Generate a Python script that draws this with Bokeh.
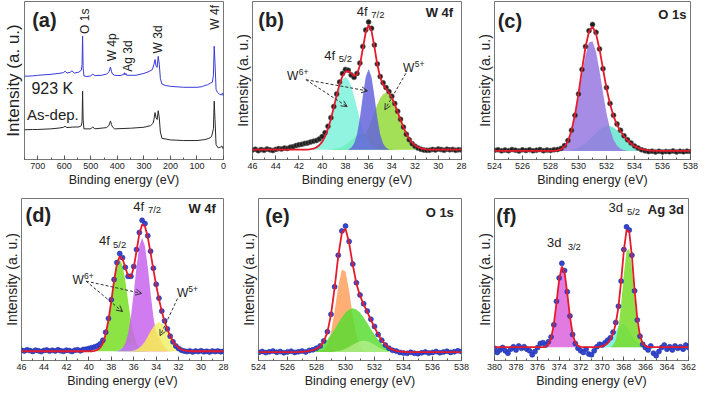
import numpy as np
from bokeh.plotting import figure
from bokeh.layouts import row, column
from bokeh.models import Range1d, SingleIntervalTicker, FixedTicker, Label, Arrow, OpenHead
from bokeh.embed import file_html
from bokeh.resources import INLINE

FONT = "Liberation Sans"

# ---------------- (a) survey spectra ----------------
A_923K_E = [750, 720, 700, 650, 620, 603, 597, 590, 578, 571, 562, 545, 536, 533, 531, 529, 526, 515, 500, 493,
            485, 460, 440, 431, 426, 422, 418, 410, 390, 376, 373.5, 371, 368, 365, 330, 300, 280, 268, 262, 258,
            254, 250, 246, 242, 238, 232, 220, 200, 150, 100, 80, 70, 60, 50, 42, 38, 35, 32, 28, 22,
            15, 8, 4, 1, 0]
A_923K_I = [52.7, 52.9, 53.3, 53.9, 54.5, 55.0, 55.9, 54.7, 55.2, 56.1, 54.7, 55.3, 56.5, 60.0, 78.2, 58.0, 52.9, 52.5, 52.9, 54.1,
            53.1, 53.3, 54.1, 55.6, 58.5, 55.5, 54.0, 53.3, 53.1, 53.9, 54.9, 53.5, 54.5, 53.3, 53.3, 54.5, 55.7, 56.9, 60.3, 63.3,
            58.9, 58.3, 65.3, 60.3, 51.3, 47.7, 46.9, 46.3, 45.7, 45.7, 46.1, 46.9, 47.3, 48.3, 48.9, 53.3, 71.7, 61.3, 44.3, 42.3,
            41.3, 40.9, 42.1, 40.3, 40.7]
A_ASDEP_E = [750, 720, 700, 650, 620, 603, 597, 590, 570, 545, 536, 533, 531, 529, 526, 500, 493, 485, 440, 431,
             426, 422, 418, 410, 350, 300, 275, 265, 262, 258, 254, 250, 246, 242, 238, 232, 200, 150, 100, 70,
             55, 45, 38, 35, 32, 28, 20, 12, 6, 3, 0]
A_ASDEP_I = [18.8, 19.0, 19.0, 19.4, 19.9, 20.4, 21.0, 20.2, 20.5, 20.6, 21.4, 24.0, 43.3, 25.0, 19.4, 19.4, 20.6, 19.4, 20.2, 21.8,
             24.4, 22.0, 20.5, 19.4, 19.8, 20.4, 21.4, 23.0, 25.5, 29.7, 26.3, 25.3, 30.9, 26.3, 17.4, 13.4, 12.4, 12.0, 12.0, 12.6,
             13.4, 14.4, 19.4, 36.9, 25.3, 9.4, 7.4, 7.8, 8.6, 7.0, 7.4]

# ---------------- (b) W 4f, as-deposited ----------------
B_START, B_STEP, B_BASE = 46.0, -0.25, 6.2
B_DATA = [6.0, 6.5, 5.6, 6.3, 5.8, 6.6, 6.1, 5.7, 6.4, 6.9,
          6.6, 7.2, 7.0, 7.8, 8.1, 8.8, 9.3, 9.6, 10.2, 10.5,
          11.0, 11.5, 12.0, 13.0, 14.5, 17.0, 21.0, 26.5, 33.5, 41.5,
          49.0, 54.5, 57.0, 56.5, 53.5, 52.0, 54.5, 61.0, 71.5, 82.0,
          87.0, 83.0, 72.5, 60.5, 52.5, 48.5, 45.5, 43.0, 40.0, 35.5,
          30.5, 25.5, 20.5, 16.0, 12.5, 10.0, 8.4, 7.2, 6.5, 6.0,
          5.8, 5.9, 6.4, 6.0, 6.6, 6.3, 5.9, 6.5, 6.1, 6.4,
          5.8, 6.2, 6.0]
B_W6_52_FROM = 41.0
B_W6_52 = [0.3, 0.7, 1.4, 2.8, 5.0, 8.4, 13.2, 19.3, 26.4, 33.7, 40.1, 44.4, 46.0, 44.4, 40.1, 33.7, 26.4, 19.3,
           13.2, 8.4, 5.0, 2.8, 1.4, 0.7, 0.3]
B_W6_72_FROM = 37.75
B_W6_72 = [0.3, 1.2, 3.9, 9.7, 20.1, 33.8, 46.0, 51.0, 46.0, 33.8, 20.1, 9.7, 3.9, 1.2, 0.3]
B_W5_52_FROM = 39.5
B_W5_52 = [0.1, 0.2, 0.4, 0.8, 1.4, 2.2, 3.2, 4.6, 6.1, 7.5, 8.8, 9.7, 10.0, 9.7, 8.8, 7.5, 6.1, 4.6, 3.2, 2.2,
           1.4, 0.8, 0.4, 0.2, 0.1]
B_W5_72_FROM = 38.0
B_W5_72 = [0.2, 0.5, 0.9, 1.6, 2.7, 4.4, 6.9, 10.2, 14.2, 18.9, 23.8, 28.5, 32.5, 35.1, 36.0, 35.1, 32.5, 28.5,
           23.8, 18.9, 14.2, 10.2, 6.9, 4.4, 2.7, 1.6, 0.9, 0.5, 0.2]

# ---------------- (c) O 1s, as-deposited ----------------
C_START, C_STEP, C_BASE = 524.0, 0.25, 5.4
C_DATA = [5.8, 6.2, 5.5, 6.0, 5.6, 6.3, 5.9, 5.4, 6.1, 5.7,
          6.2, 5.5, 5.9, 6.3, 5.6, 6.0, 5.7, 6.2, 6.3, 7.0,
          8.8, 12.0, 18.5, 28.0, 41.5, 57.0, 71.5, 81.5, 85.5, 80.5,
          70.0, 57.5, 45.5, 35.5, 28.0, 22.5, 18.5, 15.0, 12.5, 10.5,
          8.6, 7.3, 6.2, 5.5, 5.0, 5.3, 4.8, 5.2, 4.7, 5.1,
          4.9, 5.4, 4.8, 5.2, 4.9, 5.3, 5.0]
C_OX_FROM = 528.5
C_OX = [0.4, 1.1, 2.8, 6.2, 12.3, 21.6, 34.1, 48.1, 60.8, 68.6, 69.4, 62.8, 50.8, 36.8, 23.9, 13.9, 7.2, 3.3,
        1.4, 0.5, 0.2]
C_OH_FROM = 529.5
C_OH = [0.7, 1.3, 2.2, 3.4, 5.0, 7.0, 9.2, 11.5, 13.6, 15.1, 15.9, 15.8, 14.9, 13.2, 11.1, 8.8, 6.6, 4.7, 3.1,
        2.0, 1.2, 0.7, 0.4, 0.2]

# ---------------- (d) W 4f, 923 K ----------------
D_START, D_STEP, D_BASE = 46.0, -0.25, 5.7
D_DATA = [6.3, 5.9, 6.6, 6.1, 5.6, 6.4, 6.0, 5.5, 6.2, 6.5,
          5.8, 6.3, 5.9, 6.6, 6.0, 5.7, 6.4, 6.1, 5.6, 6.3,
          6.6, 6.0, 6.8, 7.0, 7.4, 7.9, 8.4, 9.0, 10.2, 12.5,
          17.5, 26.0, 37.5, 50.0, 60.5, 66.0, 63.5, 57.5, 52.0, 52.0,
          58.0, 68.5, 79.0, 86.5, 84.5, 77.0, 67.5, 57.0, 47.0, 38.5,
          30.5, 24.5, 19.5, 15.0, 11.5, 9.0, 7.4, 6.4, 5.8, 5.5,
          5.9, 5.3, 5.8, 5.5, 6.0, 5.4, 5.7, 5.2, 5.8, 5.5,
          5.9, 5.4, 5.7]
D_W6_52_FROM = 39.5
D_W6_52 = [0.2, 0.8, 2.1, 5.0, 10.5, 19.3, 31.0, 43.5, 53.2, 57.0, 53.2, 43.5, 31.0, 19.3, 10.5, 5.0, 2.1, 0.8, 0.2]
D_W5_52_FROM = 37.75
D_W5_52 = [0.1, 0.4, 1.0, 2.0, 3.3, 4.5, 5.0, 4.5, 3.3, 2.0, 1.0, 0.4, 0.1]
D_W6_72_FROM = 37.5
D_W6_72 = [0.2, 0.6, 1.9, 4.9, 11.0, 21.4, 36.0, 52.1, 65.0, 70.0, 65.0, 52.1, 36.0, 21.4, 11.0, 4.9, 1.9, 0.6, 0.2]
D_W5_72_FROM = 36.0
D_W5_72 = [0.1, 0.3, 1.1, 2.7, 5.5, 9.3, 12.6, 14.0, 12.6, 9.3, 5.5, 2.7, 1.1, 0.3, 0.1]
D_W5_X_FROM = 36.25
D_W5_X = [0.2, 0.5, 1.1, 2.2, 3.8, 6.1, 9.0, 12.2, 15.1, 17.2, 18.0, 17.2, 15.1, 12.2, 9.0, 6.1, 3.8, 2.2, 1.1,
          0.5, 0.2]

# ---------------- (e) O 1s, 923 K ----------------
E_START, E_STEP, E_BASE = 524.0, 0.25, 5.2
E_DATA = [5.0, 5.6, 4.9, 5.4, 5.8, 5.1, 5.5, 4.8, 5.3, 5.7,
          5.0, 5.4, 5.8, 5.3, 6.2, 6.6, 7.6, 9.0, 12.0, 17.8,
          28.5, 45.5, 65.0, 80.0, 83.0, 73.5, 59.5, 48.0, 40.5, 35.0,
          30.5, 25.5, 21.0, 16.0, 12.5, 9.5, 7.6, 6.3, 5.8, 5.0,
          4.6, 4.4, 5.1, 4.5, 4.2, 4.8, 5.3, 4.6, 5.0, 5.5,
          4.8, 5.2, 5.7, 5.0, 5.4, 6.0, 5.5]
E_O1_FROM = 528.25
E_O1 = [0.3, 1.4, 4.6, 12.3, 25.3, 40.7, 51.0, 49.7, 37.8, 22.4, 10.3, 3.7, 1.0, 0.2]
E_O2_FROM = 527.0
E_O2 = [0.2, 0.3, 0.7, 1.2, 2.0, 3.3, 5.2, 7.6, 10.7, 14.1, 17.9, 21.4, 24.4, 26.3, 27.0, 26.3, 24.4, 21.4, 17.9,
        14.1, 10.7, 7.6, 5.2, 3.3, 2.0, 1.2, 0.7, 0.3, 0.2]
E_O3_FROM = 529.0
E_O3 = [0.1, 0.3, 0.6, 1.2, 2.1, 3.2, 4.5, 5.8, 6.7, 7.0, 6.7, 5.8, 4.5, 3.2, 2.1, 1.2, 0.6, 0.3, 0.1]

# ---------------- (f) Ag 3d ----------------
F_START, F_STEP, F_BASE = 380.0, -0.25, 8.2
F_DATA = [7.5, 5.0, 6.5, 8.0, 6.0, 4.5, 7.0, 8.5, 6.5, 9.0,
          7.5, 8.5, 7.0, 6.0, 3.5, 5.5, 8.0, 10.5, 11.0, 9.5,
          11.5, 14.5, 22.0, 36.5, 51.0, 60.0, 55.5, 42.5, 27.5, 16.0,
          10.5, 7.5, 6.0, 5.0, 7.0, 4.0, 3.5, 6.0, 8.5, 10.0,
          9.5, 11.0, 12.5, 14.0, 17.5, 23.5, 33.5, 49.0, 68.5, 82.5,
          80.5, 65.0, 43.0, 25.0, 15.0, 10.0, 8.0, 6.5, 9.0, 4.5,
          3.0, 5.5, 8.0, 9.5, 7.0, 8.5, 6.5, 9.0, 7.5, 8.5,
          7.0, 9.5, 8.0]
F_D32_FROM = 375.5
F_D32 = [0.1, 0.4, 1.7, 5.5, 13.9, 27.3, 41.8, 49.8, 46.2, 33.4, 18.8, 8.2, 2.8, 0.8, 0.2]
F_D52B_FROM = 370.5
F_D52B = [0.1, 0.2, 0.6, 1.3, 2.5, 4.5, 7.1, 10.0, 12.6, 14.2, 14.4, 13.0, 10.5, 7.6, 4.9, 2.9, 1.5, 0.7, 0.3, 0.1]
F_D52_FROM = 369.25
F_D52 = [0.2, 1.2, 4.4, 12.3, 26.7, 45.0, 59.3, 60.8, 48.5, 30.2, 14.6, 5.5, 1.6, 0.4]

XLABEL = "Binding energy (eV)"
YLABEL = "Intensity (a. u.)"

RED = "#E41B2C"
TXT = "#222222"
FRAME = "#777777"


def make_fig(fw, fh, xr, step, mbl, mbr, mbt, mbb, ylab_px):
    p = figure(frame_width=fw, frame_height=fh, x_range=Range1d(xr[0], xr[1]), y_range=Range1d(0, 100),
               output_backend="svg", toolbar_location=None, tools="",
               min_border_left=mbl, min_border_right=mbr, min_border_top=mbt, min_border_bottom=mbb)
    p.xgrid.visible = False
    p.ygrid.visible = False
    p.background_fill_color = "white"
    p.border_fill_color = "white"
    p.outline_line_color = FRAME
    p.outline_line_width = 1
    xa = p.xaxis[0]
    xa.ticker = SingleIntervalTicker(interval=step, num_minor_ticks=2)
    xa.axis_label = XLABEL
    xa.axis_label_text_font = FONT
    xa.axis_label_text_font_size = "12.5px"
    xa.axis_label_text_font_style = "normal"
    xa.axis_label_text_color = TXT
    xa.axis_label_standoff = 1
    xa.major_label_text_font = FONT
    xa.major_label_text_font_size = "9px"
    xa.major_label_text_color = TXT
    xa.major_label_standoff = 3
    xa.axis_line_color = FRAME
    xa.major_tick_in = 4
    xa.major_tick_out = 0
    xa.minor_tick_in = 2
    xa.minor_tick_out = 0
    xa.major_tick_line_color = "#555555"
    xa.minor_tick_line_color = "#555555"
    ya = p.yaxis[0]
    ya.ticker = FixedTicker(ticks=[])
    ya.axis_label = YLABEL
    ya.axis_label_text_font = FONT
    ya.axis_label_text_font_size = f"{ylab_px}px"
    ya.axis_label_text_font_style = "normal"
    ya.axis_label_text_color = TXT
    ya.axis_label_standoff = 2
    ya.major_label_standoff = 0
    ya.major_tick_in = 0
    ya.major_tick_out = 0
    ya.minor_tick_in = 0
    ya.minor_tick_out = 0
    ya.axis_line_color = None
    return p


def txt(p, x, y, s, size, bold=False, angle=0.0):
    p.add_layout(Label(x=x, y=y, text=s, text_font=FONT, text_font_size=f"{size}px",
                       text_font_style="bold" if bold else "normal", text_color=TXT,
                       text_align="center", text_baseline="middle", angle=angle))


def arrow(p, x0, y0, x1, y1):
    p.add_layout(Arrow(x_start=x0, y_start=y0, x_end=x1, y_end=y1, line_color="#333333",
                       line_width=1, line_dash="3 2",
                       end=OpenHead(size=6, line_color="#333333", line_width=1)))


def spectrum(p, start, step, data, base, comps, dot_fill, dot_line):
    n = len(data)
    e = start + step * np.arange(n)
    total = np.full(n, float(base))
    for frm, vals, color, alpha in comps:
        i0 = int(round((frm - start) / step))
        v = np.asarray(vals[:n - i0], dtype=float)
        seg = e[i0:i0 + len(v)]
        total[i0:i0 + len(v)] += v
        p.varea(x=seg, y1=np.full(len(v), float(base)), y2=base + v,
                fill_color=color, fill_alpha=alpha)
    p.scatter(e, data, size=5, fill_color=dot_fill, line_color=dot_line, line_width=0.6)
    p.line(e, total, line_color=RED, line_width=1.8)


FH1, FH2 = 158, 162
R1 = dict(mbt=1, mbb=30)
R2 = dict(mbt=9, mbb=29)

# ---- (a) ----
fa = make_fig(199, FH1, (750, 0), 100, 22, 8, ylab_px=17, **R1)
fa.line(A_923K_E, A_923K_I, line_color="#3a3ad8", line_width=1)
fa.line(A_ASDEP_E, A_ASDEP_I, line_color="#2a2a2a", line_width=1)
txt(fa, 675, 88, "(a)", 20, bold=True)
txt(fa, 522, 87.5, "O 1s", 12, angle=np.pi / 2)
txt(fa, 422, 71, "W 4p", 12, angle=np.pi / 2)
txt(fa, 359, 65.5, "Ag 3d", 12, angle=np.pi / 2)
txt(fa, 246, 76, "W 3d", 12, angle=np.pi / 2)
txt(fa, 33, 90, "W 4f", 12, angle=np.pi / 2)
txt(fa, 645, 45, "923 K", 16)
txt(fa, 643, 28.5, "As-dep.", 15)

# ---- (b) ----
fb = make_fig(209, FH1, (46, 28), 2, 20, 12, ylab_px=14, **R1)
spectrum(fb, B_START, B_STEP, B_DATA, B_BASE,
         [(B_W5_52_FROM, B_W5_52, "#3CDC3C", 0.9),
          (B_W5_72_FROM, B_W5_72, "#9ADC46", 0.9),
          (B_W6_52_FROM, B_W6_52, "#7CF2DA", 0.85),
          (B_W6_72_FROM, B_W6_72, "#6464DC", 0.85)],
         "#1e1e1e", "#666666")
txt(fb, 44.4, 88, "(b)", 20, bold=True)
txt(fb, 29.9, 93, "W 4f", 13, bold=True)
txt(fb, 36.55, 93.5, "4f", 13)
txt(fb, 35.2, 91.5, "7/2", 9.5)
txt(fb, 39.35, 65.7, "4f", 13)
txt(fb, 38.0, 63.8, "5/2", 9.5)
txt(fb, 42.55, 53.1, "W", 12)
txt(fb, 41.6, 55.5, "6+", 8.5)
txt(fb, 32.55, 57.8, "W", 12)
txt(fb, 31.6, 60.2, "5+", 8.5)
arrow(fb, 41.4, 50.5, 37.85, 33.5)
arrow(fb, 41.4, 50.5, 36.1, 43.4)
arrow(fb, 32.8, 54.5, 34.6, 31.5)

# ---- (c) ----
fc = make_fig(196, FH1, (524, 538), 2, 19, 8, ylab_px=14, **R1)
spectrum(fc, C_START, C_STEP, C_DATA, C_BASE,
         [(C_OH_FROM, C_OH, "#6EE6D2", 0.9),
          (C_OX_FROM, C_OX, "#9678E0", 0.85)],
         "#1e1e1e", "#666666")
txt(fc, 525.1, 87.6, "(c)", 20, bold=True)
txt(fc, 536.7, 92, "O 1s", 13, bold=True)

# ---- (d) ----
fd = make_fig(202, FH2, (46, 28), 2, 20, 14, ylab_px=14, **R2)
spectrum(fd, D_START, D_STEP, D_DATA, D_BASE,
         [(D_W6_52_FROM, D_W6_52, "#80E030", 0.9),
          (D_W5_52_FROM, D_W5_52, "#9CE6C8", 0.9),
          (D_W6_72_FROM, D_W6_72, "#C864EC", 0.85),
          (D_W5_72_FROM, D_W5_72, "#FFA064", 0.85),
          (D_W5_X_FROM, D_W5_X, "#F0F064", 0.8)],
         "#3246D2", "#2030A0")
txt(fd, 44.5, 90, "(d)", 20, bold=True)
txt(fd, 29.9, 94, "W 4f", 13, bold=True)
txt(fd, 35.55, 95.2, "4f", 13)
txt(fd, 34.15, 93.2, "7/2", 9.5)
txt(fd, 38.6, 74, "4f", 13)
txt(fd, 37.25, 71.5, "5/2", 9.5)
txt(fd, 40.95, 49.6, "W", 12)
txt(fd, 40.0, 52.2, "6+", 8.5)
txt(fd, 31.65, 41.8, "W", 12)
txt(fd, 30.7, 44.3, "5+", 8.5)
arrow(fd, 40.25, 49.0, 37.0, 30.2)
arrow(fd, 40.25, 49.0, 35.3, 41.4)
arrow(fd, 32.1, 38.2, 33.65, 15.3)

# ---- (e) ----
fe = make_fig(203, FH2, (524, 538), 2, 18, 12, ylab_px=14, **R2)
spectrum(fe, E_START, E_STEP, E_DATA, E_BASE,
         [(E_O1_FROM, E_O1, "#FFAA6E", 0.95),
          (E_O2_FROM, E_O2, "#5ADC32", 0.85),
          (E_O3_FROM, E_O3, "#C8F5A0", 0.6)],
         "#3246D2", "#2030A0")
txt(fe, 525.3, 89, "(e)", 20, bold=True)
txt(fe, 536.5, 91.3, "O 1s", 13, bold=True)

# ---- (f) ----
ff = make_fig(194, FH2, (380, 362), 2, 21, 9, ylab_px=14, **R2)
spectrum(ff, F_START, F_STEP, F_DATA, F_BASE,
         [(F_D52B_FROM, F_D52B, "#78F0E6", 0.9),
          (F_D52_FROM, F_D52, "#78DC28", 0.85),
          (F_D32_FROM, F_D32, "#DC64DC", 0.85)],
         "#3246D2", "#2030A0")
txt(ff, 378.9, 89.3, "(f)", 20, bold=True)
txt(ff, 364.1, 93, "Ag 3d", 13, bold=True)
txt(ff, 368.75, 94.3, "3d", 13)
txt(ff, 367.1, 92.0, "5/2", 9.5)
txt(ff, 374.45, 72.8, "3d", 13)
txt(ff, 372.6, 70.3, "3/2", 9.5)

layout = column(row(fa, fb, fc, spacing=0), row(fd, fe, ff, spacing=0), spacing=0)

with open("out.html", "w") as fh:
    fh.write(file_html(layout, INLINE))
